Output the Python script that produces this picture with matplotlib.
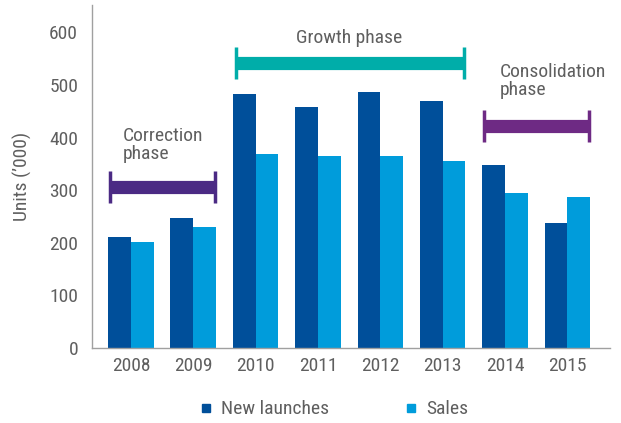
import matplotlib
matplotlib.use("Agg")
import matplotlib.pyplot as plt
from matplotlib.lines import Line2D
import numpy as np

years = ["2008", "2009", "2010", "2011", "2012", "2013", "2014", "2015"]
new_launches = [210, 247, 483, 458, 487, 469, 348, 237]
sales = [201, 229, 368, 365, 365, 355, 294, 286]
y_ticks = [0, 100, 200, 300, 400, 500, 600]

phases = [
    ("Correction\nphase", -0.34, 1.35, 306, "#4B2A84"),
    ("Growth phase", 1.68, 5.34, 542, "#00ADA9"),
    ("Consolidation\nphase", 5.66, 7.34, 422, "#6E2A84"),
]

plt.rcParams['font.family'] = ['Liberation Sans Narrow', 'Roboto Condensed', 'Roboto', 'DejaVu Sans']
TXT = "#5f5f5f"
FS = 14

fig = plt.figure(figsize=(6.21, 4.23), dpi=100)
ax = fig.add_axes([0.148, 0.178, 0.834, 0.810])

x = np.arange(len(years))
w = 0.365
ax.bar(x - w/2, new_launches, w, color="#004F9A", label="New launches")
ax.bar(x + w/2, sales, w, color="#009CDB", label="Sales")

ax.set_xlim(-0.625, 7.68)
ax.set_ylim(0, 652)
ax.set_yticks(y_ticks)
ax.set_xticks(x)
ax.set_xticklabels(years)
ax.tick_params(axis='both', length=0, labelsize=FS, colors=TXT, pad=7)
ax.tick_params(axis='y', pad=10)
for s in ["top", "right"]:
    ax.spines[s].set_visible(False)
for s in ["left", "bottom"]:
    ax.spines[s].set_color("#a0a0a0")
    ax.spines[s].set_linewidth(1.0)
ax.set_ylabel("Units (’000)", fontsize=FS, color=TXT, labelpad=12)

cap_h = 31  # data units for end caps
for label, x0, x1, yv, col in phases:
    ax.hlines(yv, x0, x1, colors=col, linewidth=9.5, capstyle='butt')
    ax.vlines([x0, x1], yv - cap_h, yv + cap_h, colors=col, linewidth=2.5)

ax.text(-0.13, 420, "Correction\nphase", fontsize=FS, color=TXT, ha='left', va='top', linespacing=1.0)
ax.text(3.5, 590, "Growth phase", fontsize=FS, color=TXT, ha='center', va='center')
ax.text(5.92, 541, "Consolidation\nphase", fontsize=FS, color=TXT, ha='left', va='top', linespacing=1.0)

handles = [Line2D([], [], marker='s', linestyle='none', color="#004F9A", markersize=6),
           Line2D([], [], marker='s', linestyle='none', color="#009CDB", markersize=6)]
fig.legend(handles, ["New launches", "Sales"], loc='center', bbox_to_anchor=(0.535, 0.032),
           ncol=2, frameon=False, fontsize=FS, labelcolor=TXT, columnspacing=3.7,
           handletextpad=0.3, handlelength=1.0, borderpad=0.2)

fig.savefig("out.png", dpi=100)
